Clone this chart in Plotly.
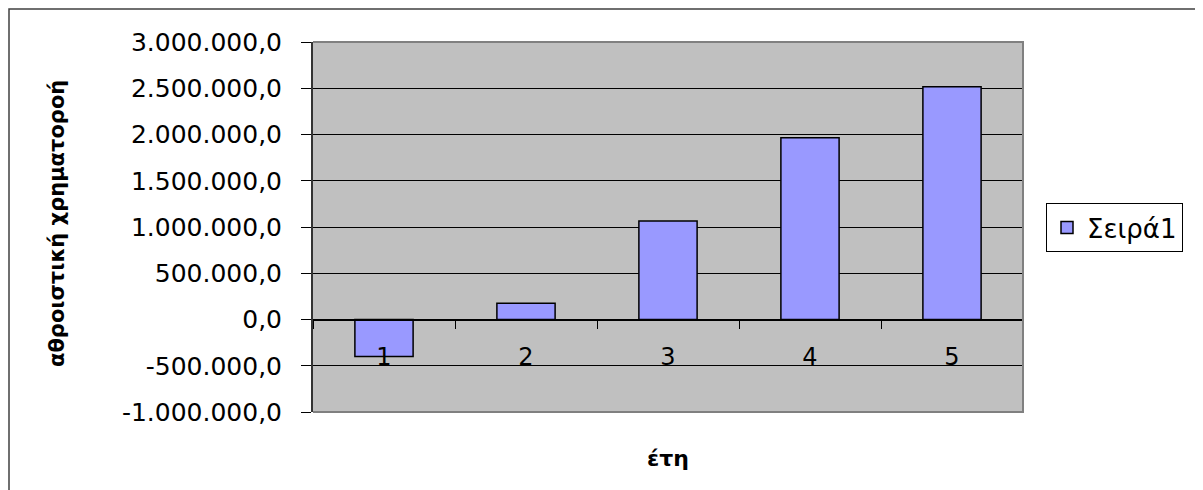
import plotly.graph_objects as go

years = ["1", "2", "3", "4", "5"]
values = [-400000, 175000, 1065000, 1965000, 2515000]
series_name = "Σειρά1"
y_tickvals = [-1000000, -500000, 0, 500000, 1000000, 1500000, 2000000, 2500000, 3000000]
y_ticktext = ["-1.000.000,0", "-500.000,0", "0,0", "500.000,0", "1.000.000,0",
              "1.500.000,0", "2.000.000,0", "2.500.000,0", "3.000.000,0"]
y_title = "αθροιστική χρηματοροή"
x_title = "έτη"

OFF = 8  # page body margin
W, H = 1203 - OFF, 490 - OFF
L, T = 313 - OFF, 42 - OFF
pw, ph = 1023 - 313, 412 - 42
R, B = W - L - pw, H - T - ph

def px(x):  # page pixel x -> paper fraction
    return (x - 313) / pw

def py(y):  # page pixel y -> paper fraction
    return (412 - y) / ph

ymin, ymax = -1000000, 3000000
zero_pos = (0 - ymin) / (ymax - ymin)

font_family = "DejaVu Sans"

fig = go.Figure()
fig.add_trace(go.Bar(
    x=years, y=values, name=series_name,
    marker=dict(color="#9999FF", line=dict(color="#000000", width=1.5)),
    showlegend=True,
))

fig.update_layout(
    width=W, height=H,
    margin=dict(l=L, r=R, t=T, b=B, pad=0),
    paper_bgcolor="white",
    plot_bgcolor="#C0C0C0",
    bargap=0.59,
    font=dict(family=font_family, size=24, color="black"),
    showlegend=True,
    legend=dict(
        x=px(1046), y=py(227.5), xanchor="left", yanchor="middle",
        bordercolor="black", borderwidth=1, bgcolor="white",
        font=dict(family=font_family, size=26, color="black"),
        itemwidth=30, tracegroupgap=0,
    ),
    xaxis=dict(
        type="category", range=[-0.5, 4.5],
        anchor="free", position=zero_pos,
        showline=True, linecolor="black", linewidth=1,
        ticks="outside", tickson="boundaries", ticklen=8, tickcolor="black", tickwidth=1,
        showgrid=False, zeroline=False,
        tickfont=dict(family=font_family, size=24, color="black"),
        ticklabelstandoff=16,
    ),
    yaxis=dict(
        range=[ymin, ymax],
        tickvals=y_tickvals, ticktext=y_ticktext,
        showgrid=True, gridcolor="black", gridwidth=1,
        zeroline=False,
        showline=True, linecolor="#333333", linewidth=2,
        ticks="outside", ticklen=10, tickcolor="black", tickwidth=1,
        tickfont=dict(family=font_family, size=25, color="black"),
        ticklabelstandoff=14,
    ),
    shapes=[
        dict(type="path", xref="paper", yref="paper",
             path="M 0,1 L 1,1 L 1,0 L 0,0",
             line=dict(color="#808080", width=2), layer="above"),
        dict(type="rect", xref="paper", yref="paper",
             x0=px(9), x1=px(1203 + 20),
             y0=py(490 + 20), y1=py(9),
             line=dict(color="#404040", width=1.5), layer="below"),
    ],
    annotations=[
        dict(text=y_title, textangle=-90, xref="paper", yref="paper",
             x=px(57), y=py(224), xanchor="center", yanchor="middle",
             showarrow=False,
             font=dict(family=font_family, size=21, color="black", weight="bold")),
        dict(text=x_title, xref="paper", yref="paper",
             x=0.5, y=py(458), xanchor="center", yanchor="middle",
             showarrow=False,
             font=dict(family=font_family, size=22, color="black", weight="bold")),
    ],
)

fig.write_html("out.html")
